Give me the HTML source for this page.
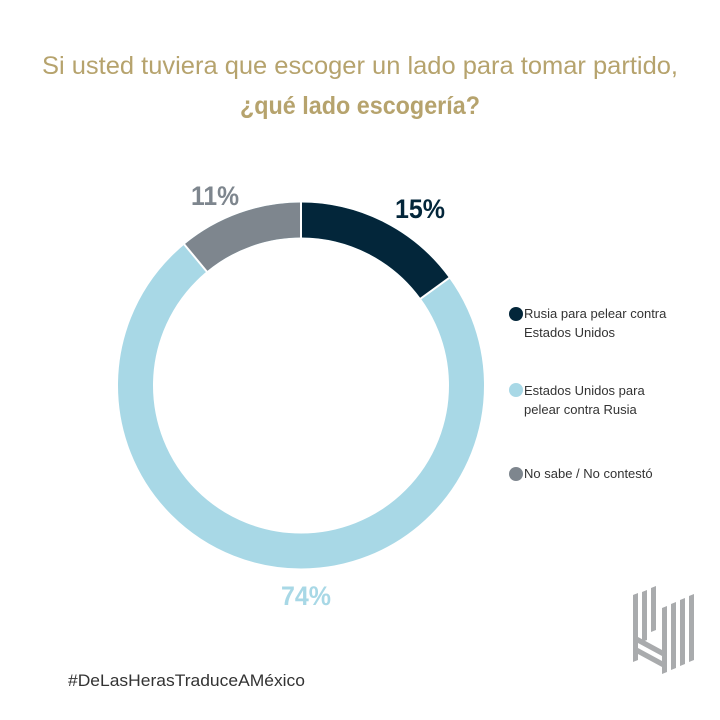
<!DOCTYPE html>
<html><head><meta charset="utf-8"><style>
html,body{margin:0;padding:0;background:#fff;}
svg{display:block;}
text{font-family:"Liberation Sans Narrow","Liberation Sans",sans-serif;}
</style></head><body>
<svg width="720" height="720" viewBox="0 0 720 720">
<rect width="720" height="720" fill="#fff"/>
<text x="360" y="74" text-anchor="middle" font-size="25" fill="#b6a36d" textLength="636" lengthAdjust="spacingAndGlyphs">Si usted tuviera que escoger un lado para tomar partido,</text>
<text x="360" y="114" text-anchor="middle" font-size="25" font-weight="bold" fill="#b6a36d" textLength="240" lengthAdjust="spacingAndGlyphs">¿qué lado escogería?</text>
<g transform="translate(301,385.5) rotate(-90)">
<circle r="165.5" fill="none" stroke="#a8d8e6" stroke-width="35"/>
<circle r="165.5" fill="none" stroke="#03263a" stroke-width="35" stroke-dasharray="155.98 1040" stroke-dashoffset="0"/>
<circle r="165.5" fill="none" stroke="#7e868e" stroke-width="35" stroke-dasharray="114.4 1040" stroke-dashoffset="-925.5"/>
</g>
<g stroke="#fff" stroke-width="2">
<line x1="301" y1="200" x2="301" y2="240"/>
</g>
<g transform="translate(301,385.5)" stroke="#fff" stroke-width="2">
<line x1="0" y1="-185" x2="0" y2="-145" transform="rotate(54)"/>
<line x1="0" y1="-185" x2="0" y2="-145" transform="rotate(-39.6)"/>
</g>
<text x="420" y="218" text-anchor="middle" font-size="27" font-weight="bold" fill="#03263a" textLength="50" lengthAdjust="spacingAndGlyphs">15%</text>
<text x="215" y="205" text-anchor="middle" font-size="27" font-weight="bold" fill="#7e868e" textLength="48" lengthAdjust="spacingAndGlyphs">11%</text>
<text x="306" y="605" text-anchor="middle" font-size="27" font-weight="bold" fill="#a8d8e6" textLength="50" lengthAdjust="spacingAndGlyphs">74%</text>
<circle cx="516" cy="314" r="7" fill="#03263a"/>
<text x="524" y="318" font-size="13" fill="#333">Rusia para pelear contra</text>
<text x="524" y="337" font-size="13" fill="#333">Estados Unidos</text>
<circle cx="516" cy="390" r="7" fill="#a8d8e6"/>
<text x="524" y="395" font-size="13" fill="#333">Estados Unidos para</text>
<text x="524" y="414" font-size="13" fill="#333">pelear contra Rusia</text>
<circle cx="516" cy="474" r="7" fill="#7e868e"/>
<text x="524" y="478" font-size="13" fill="#333">No sabe / No contestó</text>
<text x="68" y="686" font-size="17" fill="#333" textLength="237" lengthAdjust="spacingAndGlyphs">#DeLasHerasTraduceAMéxico</text>
<g fill="#a9abad">
<polygon points="633,595 638,593 638,660 633,662"/>
<polygon points="642,592 647,590 647,640 642,642"/>
<polygon points="651,588 656,586 656,630 651,632"/>
<polygon points="662,608 667,606 667,672 662,674"/>
<polygon points="671,604 676,602 676,668 671,670"/>
<polygon points="680,600 685,598 685,664 680,666"/>
<polygon points="689,596 694,594 694,660 689,662"/>
<polygon points="638,637 662,650 662,656 638,643"/>
<polygon points="638,648 662,661 662,667 638,654"/>
</g>
</svg>
</body></html>
